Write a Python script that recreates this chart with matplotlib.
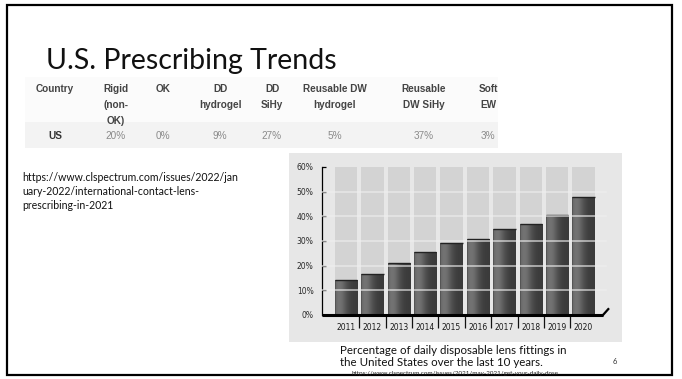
import numpy as np
import matplotlib.pyplot as plt
from matplotlib.patches import Rectangle

# prescribing mix, US 2021
table_headers = ["Country", "Rigid\n(non-\nOK)", "OK", "DD\nhydrogel", "DD\nSiHy",
                 "Reusable DW\nhydrogel", "Reusable\nDW SiHy", "Soft\nEW"]
table_row = ["US", "20%", "0%", "9%", "27%", "5%", "37%", "3%"]

# share of daily disposable fittings by year (%)
years = ["2011", "2012", "2013", "2014", "2015", "2016", "2017", "2018", "2019", "2020"]
dd_share = [14, 16.5, 21, 25.5, 29, 31, 35, 37, 40.5, 48]
y_ticks = [0, 10, 20, 30, 40, 50, 60]

W, H = 682, 379
fig = plt.figure(figsize=(W / 100, H / 100), dpi=100)
fig.patch.set_facecolor("white")

# slide canvas in pixel units
slide = fig.add_axes([0, 0, 1, 1])
slide.set_xlim(0, W)
slide.set_ylim(H, 0)
slide.axis("off")

slide.add_patch(Rectangle((7, 5), 665, 370, fill=False, ec="black", lw=1.6))

slide.text(46, 69, "U.S. Prescribing Trends", family="Lato",
           fontsize=20.5, color="#111111", va="baseline", ha="left")

# table
slide.add_patch(Rectangle((25, 77), 473, 45, fc="#fbfbfb", ec="none"))
slide.add_patch(Rectangle((25, 122), 473, 26, fc="#f3f3f3", ec="none"))
col_x = [55, 116, 163, 220, 272, 335, 424, 488]
for cx, head, val in zip(col_x, table_headers, table_row):
    slide.text(cx, 84, head, family="Liberation Sans", weight="bold", fontsize=7.2,
               color="#444444", ha="center", va="top", linespacing=1.75)
    bold = val == "US"
    slide.text(cx, 136, val, family="Liberation Sans", fontsize=7.2,
               weight="bold" if bold else "normal",
               color="#333333" if bold else "#8a8a8a", ha="center", va="center")

slide.text(22, 172, "https://www.clspectrum.com/issues/2022/jan\n"
           "uary-2022/international-contact-lens-\nprescribing-in-2021",
           family="Lato", fontsize=7.6, color="#111111", ha="left", va="top",
           linespacing=1.35)

# chart panel
slide.add_patch(Rectangle((289, 153), 333, 189, fc="#e7e7e7", ec="none"))

slide.text(340, 350, "Percentage of daily disposable lens fittings in",
           family="Lato", fontsize=8.3, color="#111111", ha="left", va="center")
slide.text(340, 362, "the United States over the last 10 years.",
           family="Lato", fontsize=8.3, color="#111111", ha="left", va="center")
slide.text(352, 373.5, "https://www.clspectrum.com/issues/2021/may-2021/get-your-daily-dose",
           family="Lato", fontsize=4.5, color="#222222", ha="left", va="center")
slide.text(615, 361, "6", family="Lato", fontsize=5.5, color="#333333",
           ha="center", va="center")

# bar chart axes: y=0 at 315 px, y=60 at 167 px, x from 322 to 603 px
pitch = 26.4
x0_px, x1_px = 322, 603
ax = fig.add_axes([x0_px / W, (H - 315) / H, (x1_px - x0_px) / W, (315 - 167) / H])
ax.patch.set_alpha(0)
xlim = ((x0_px - 346) / pitch, (x1_px - 346) / pitch)

x = np.arange(len(years))
bw = 0.85
ax.bar(x, [y_ticks[-1]] * len(years), width=bw, color="#d3d3d3", zorder=0)

# bars shaded with a horizontal gradient, lighter on the left
prof = np.linspace(0, 1, 64)
shade = 0.23 + 0.22 * np.exp(-((prof - 0.18) / 0.35) ** 2)
shade[:2] = 0.3
img = np.dstack([shade, shade, shade]).repeat(2, axis=0)
bars = ax.bar(x, dd_share, width=bw, color="none", zorder=2)
for b in bars:
    bx, bh = b.get_x(), b.get_height()
    im = ax.imshow(img, extent=[bx, bx + bw, 0, bh], aspect="auto",
                   interpolation="bilinear", zorder=2)
    im.set_clip_path(b)
    ax.plot([bx, bx + bw], [bh, bh], color="#222222", lw=1.0, zorder=3,
            solid_capstyle="butt")

ax.set_xlim(*xlim)
ax.set_ylim(0, 60)

# light gridlines drawn over the bars
for t in y_ticks[1:-1]:
    ax.plot([xlim[0], xlim[1] + 0.1], [t, t], color="#eeeeee",
            lw=1.4, alpha=0.6, zorder=4, clip_on=False)

for s in ["top", "right"]:
    ax.spines[s].set_visible(False)
ax.spines["left"].set_linewidth(0.9)
ax.spines["bottom"].set_linewidth(2.2)
ax.spines["bottom"].set_capstyle("butt")
ax.plot([xlim[1], xlim[1] + 0.2], [0, 2.4], color="black", lw=1.6,
        clip_on=False, zorder=5)

ax.set_yticks(y_ticks)
ax.set_yticklabels([f"{t}%" for t in y_ticks])
ax.tick_params(axis="y", direction="in", length=3, width=0.9, pad=6,
               labelsize=5.5, labelcolor="#2a2a2a")
ax.set_xticks(x)
ax.set_xticklabels(years)
ax.tick_params(axis="x", which="major", length=0, pad=6, labelsize=5.5,
               labelcolor="#1a1a1a")
ax.set_xticks(x[:-1] + 0.5, minor=True)
ax.tick_params(axis="x", which="minor", direction="out", length=9, width=0.9,
               color="#111111")
ax.set_xlim(*xlim)
ax.set_ylim(0, 60)

fig.savefig("out.png", dpi=100, facecolor="white")
